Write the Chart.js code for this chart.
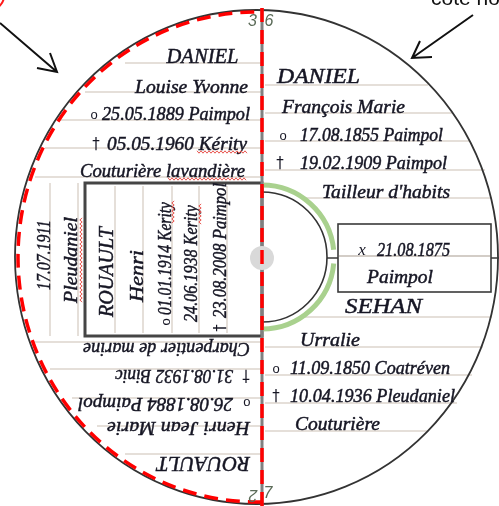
<!DOCTYPE html>
<html>
<head>
<meta charset="utf-8">
<script src="https://cdn.jsdelivr.net/npm/chart.js@4.4.1/dist/chart.umd.min.js"></script>
<style>
html, body { margin: 0; padding: 0; background: #fff; }
canvas { display: block; }
</style>
</head>
<body>
<canvas id="fan" width="499" height="506"></canvas>
<script>
// Arbre en éventail - textes de chaque personne

// côté droit (père et mère du père)
const rightLabels = ['DANIEL', 'François Marie', 'o', '17.08.1855 Paimpol', '†', '19.02.1909 Paimpol',
    "Tailleur d'habits", 'x', '21.08.1875', 'Paimpol', 'SEHAN', 'Urralie', 'o', '11.09.1850 Coatréven',
    '†', '10.04.1936 Pleudaniel', 'Couturière'];
// côté gauche, en haut
const leftLabels = ['DANIEL', 'Louise Yvonne', 'o', '25.05.1889 Paimpol', '†', '05.05.1960 Kérity',
    'Couturière lavandière'];
// colonnes verticales (sujet + mariage)
const sideLabels = ['17.07.1911', 'Pleudaniel', 'ROUAULT', 'Henri', 'o', '01.01.1914 Kerity',
    '24.06.1938 Kerity', '†', '23.08.2008 Paimpol'];
// côté gauche, en bas (à l'envers)
const lowLabels = ['Charpentier de marine', '†', '31.08.1932 Binic', 'o', '26.08.1884 Paimpol',
    'Henri Jean Marie', 'ROUAULT'];
// numéros de génération
const genLabels = ['3', '6', '2', '7'];
const noteLabel = 'côté homme';

// mise en page : [centre x, centre y, largeur] en unités des échelles
const rightPos = [[318.5, 78, 83], [343.5, 108, 123], [283, 136, 0], [371.5, 136, 143], [280, 164, 0],
    [373.5, 164, 147], [386, 193, 128], [362, 251, 0], [413.5, 251, 73], [400, 278, 66], [383.5, 308, 77],
    [330, 341, 60], [276, 369, 0], [370, 369, 160], [276, 397, 0], [372.5, 397, 165], [337.5, 425, 85]];
const leftPos = [[202.5, 58, 72], [191.5, 88, 113], [94, 115, 0], [176, 115, 148], [96, 145, 0],
    [177, 145, 140], [162.5, 172, 165]];
const sidePos = [[45, 255, 70], [72, 260, 86], [108, 272, 90], [138, 276, 52], [166, 322, 0],
    [166, 258.5, 113], [192, 263.5, 117], [221, 328, 0], [221, 250.5, 135]];
const lowPos = [[166.5, 348, 167], [246, 375, 0], [174, 375, 118], [247, 403, 0], [155.5, 403, 155],
    [178.5, 427, 143], [203.5, 462, 93]];
const genPos = [[252.5, 22, 0], [269, 22, 0], [253, 494, 180], [268, 494, 0]];

// lignes de réglure [y, x début, x fin]
const rules = [[85, 265, 428], [113, 265, 452], [141, 265, 470], [170, 265, 485], [198, 305, 492],
    [317, 305, 492], [347, 265, 483], [375, 265, 472], [403, 265, 457], [431, 265, 428],
    [63, 125, 262], [92, 85, 262], [120, 60, 262], [148, 45, 262], [177, 35, 262],
    [342, 33, 262], [369, 50, 262], [398, 72, 262], [426, 97, 262], [454, 125, 262]];
// réglure verticale [x, y début, y fin]
const vrules = [[50, 183, 336], [78, 183, 336], [115, 186, 333], [143, 186, 333], [172, 186, 333],
    [199, 186, 333], [227, 186, 333]];
// soulignés rouges du correcteur [x0, y0, x1, y1]
const squiggles = [[197, 152, 247, 152], [168, 179, 246, 179], [81, 218, 81, 303],
    [173, 201, 173, 224], [200, 204, 200, 224]];

const hub = { x: 262, y: 258 };

function fontFor(text) {
    if (text === 'o') return '13px "Liberation Sans"';
    if (text === '†') return '15px "DejaVu Sans"';
    if (text === 'x') return 'italic 17px "Liberation Serif"';
    if (/^[A-Z]+$/.test(text)) return 'italic 20px "Liberation Serif"';
    return 'italic 18px "Liberation Serif"';
}

function drawLabel(ctx, text, x, y, w, rot, font, color, heavy) {
    ctx.save();
    ctx.translate(x, y);
    ctx.rotate(rot * Math.PI / 180);
    ctx.font = font;
    ctx.fillStyle = color;
    ctx.strokeStyle = color;
    ctx.lineWidth = 0.45;
    ctx.textAlign = 'center';
    ctx.textBaseline = 'middle';
    if (w > 0) {
        const m = ctx.measureText(text).width;
        ctx.scale(w / m, 1);
    }
    ctx.fillText(text, 0, 0);
    if (heavy) ctx.strokeText(text, 0, 0);
    ctx.restore();
}

function arrow(ctx, pts) {
    ctx.beginPath();
    ctx.moveTo(pts[0][0], pts[0][1]);
    ctx.lineTo(pts[1][0], pts[1][1]);
    ctx.moveTo(pts[2][0], pts[2][1]);
    ctx.lineTo(pts[1][0], pts[1][1]);
    ctx.lineTo(pts[3][0], pts[3][1]);
    ctx.stroke();
}

const fanPlugin = {
    id: 'fan',
    beforeDatasetsDraw(chart) {
        const ctx = chart.ctx;
        const X = v => chart.scales.x.getPixelForValue(v);
        const Y = v => chart.scales.y.getPixelForValue(v);
        const kx = X(1) - X(0), ky = Y(1) - Y(0);
        const ink = '#161624';

        ctx.save();
        // réglure
        ctx.strokeStyle = '#dcd4cc';
        ctx.lineWidth = 1.5;
        rules.forEach(r => {
            ctx.beginPath();
            ctx.moveTo(X(r[1]), Y(r[0]));
            ctx.lineTo(X(r[2]), Y(r[0]));
            ctx.stroke();
        });
        vrules.forEach(r => {
            ctx.beginPath();
            ctx.moveTo(X(r[0]), Y(r[1]));
            ctx.lineTo(X(r[0]), Y(r[2]));
            ctx.stroke();
        });

        // cercle extérieur
        ctx.strokeStyle = '#333333';
        ctx.lineWidth = 1.8;
        ctx.beginPath();
        ctx.ellipse(X(256.5), Y(257), 241.5 * kx, 247 * ky, 0, 0, Math.PI * 2);
        ctx.stroke();

        // cadre du sujet (gauche)
        ctx.strokeStyle = '#454545';
        ctx.lineWidth = 3;
        ctx.strokeRect(X(85), Y(183), 177 * kx, 153 * ky);

        // cadre du mariage (droite)
        ctx.strokeStyle = '#3a3a3a';
        ctx.lineWidth = 1.6;
        ctx.strokeRect(X(338), Y(224), 153 * kx, 68 * ky);
        ctx.beginPath();
        ctx.moveTo(X(327), Y(258)); ctx.lineTo(X(338), Y(258));
        ctx.moveTo(X(491), Y(258)); ctx.lineTo(X(499), Y(258));
        ctx.stroke();
        ctx.strokeStyle = '#c4bcb4';
        ctx.lineWidth = 1.3;
        ctx.beginPath();
        ctx.moveTo(X(339), Y(256)); ctx.lineTo(X(490), Y(256));
        ctx.stroke();

        // demi-cercle central + arc vert
        ctx.strokeStyle = '#a9d18e';
        ctx.lineWidth = 5;
        ctx.beginPath();
        ctx.arc(X(262), Y(257), 72 * kx, -Math.PI / 2, -0.1);
        ctx.stroke();
        ctx.beginPath();
        ctx.arc(X(262), Y(257), 72 * kx, 0.09, Math.PI / 2);
        ctx.stroke();
        ctx.strokeStyle = '#333333';
        ctx.lineWidth = 1.6;
        ctx.beginPath();
        ctx.arc(X(262), Y(257), 65 * kx, -Math.PI / 2, Math.PI / 2);
        ctx.stroke();

        // textes
        const groups = [[rightLabels, rightPos, 0], [leftLabels, leftPos, 0], [sideLabels, sidePos, -90], [lowLabels, lowPos, 180]];
        groups.forEach(([labels, pos, rot]) => {
            labels.forEach((t, i) => {
                const p = pos[i];
                drawLabel(ctx, t, X(p[0]), Y(p[1]), p[2] * kx, rot, fontFor(t), ink, p[2] > 0);
            });
        });

        // soulignés ondulés
        ctx.strokeStyle = '#e8554f';
        ctx.lineWidth = 1;
        squiggles.forEach(s => {
            const x0 = X(s[0]), y0 = Y(s[1]), x1 = X(s[2]), y1 = Y(s[3]);
            const len = Math.hypot(x1 - x0, y1 - y0);
            const ux = (x1 - x0) / len, uy = (y1 - y0) / len;
            ctx.beginPath();
            for (let d = 0, k = 0; d <= len; d += 2, k++) {
                const off = (k % 2 ? 1.2 : -1.2);
                const px = x0 + ux * d - uy * off, py = y0 + uy * d + ux * off;
                if (d === 0) ctx.moveTo(px, py); else ctx.lineTo(px, py);
            }
            ctx.stroke();
        });

        // flèches et annotations
        ctx.strokeStyle = '#111111';
        ctx.lineWidth = 2;
        arrow(ctx, [[X(0), Y(23)], [X(57), Y(72)], [X(37), Y(68)], [X(50), Y(53)]]);
        arrow(ctx, [[X(473), Y(15)], [X(412), Y(58)], [X(432), Y(57)], [X(420), Y(41)]]);
        ctx.strokeStyle = '#ff1a1a';
        ctx.beginPath();
        ctx.arc(X(-9), Y(-4), 13 * kx, 0, Math.PI * 2);
        ctx.stroke();
        ctx.font = '21px "Liberation Sans"';
        ctx.fillStyle = '#111111';
        ctx.textAlign = 'left';
        ctx.textBaseline = 'alphabetic';
        ctx.fillText(noteLabel, X(431), Y(5));

        // axe vertical gris
        ctx.strokeStyle = '#808080';
        ctx.lineWidth = 3;
        ctx.beginPath();
        ctx.moveTo(X(262), Y(8)); ctx.lineTo(X(262), Y(506));
        ctx.stroke();
        ctx.restore();
    },
    afterDatasetsDraw(chart) {
        const ctx = chart.ctx;
        const X = v => chart.scales.x.getPixelForValue(v);
        const Y = v => chart.scales.y.getPixelForValue(v);
        const kx = X(1) - X(0), ky = Y(1) - Y(0);

        ctx.save();
        // pointillés rouges : axe + demi-cercle gauche
        ctx.strokeStyle = '#ff0000';
        ctx.lineWidth = 3.5;
        ctx.setLineDash([14, 8]);
        ctx.beginPath();
        ctx.moveTo(X(262), Y(8)); ctx.lineTo(X(262), Y(506));
        ctx.stroke();
        ctx.beginPath();
        ctx.ellipse(X(257), Y(257), 239 * kx, 245 * ky, 0, Math.PI / 2 - 0.02, Math.PI * 1.5 + 0.02);
        ctx.stroke();
        ctx.setLineDash([]);

        // numéros
        genLabels.forEach((t, i) => {
            const p = genPos[i];
            drawLabel(ctx, t, X(p[0]), Y(p[1]), 0, p[2], 'italic 16px "Liberation Sans"', '#5b6b58', false);
        });
        ctx.restore();
    }
};

new Chart(document.getElementById('fan'), {
    type: 'scatter',
    data: {
        datasets: [{
            data: [hub],
            pointRadius: 12,
            pointHoverRadius: 12,
            backgroundColor: '#d9d9d9',
            borderWidth: 0
        }]
    },
    options: {
        responsive: false,
        animation: false,
        events: [],
        layout: { padding: 0, autoPadding: false },
        scales: {
            x: { type: 'linear', min: 0, max: 499, display: false },
            y: { type: 'linear', min: 0, max: 506, reverse: true, display: false }
        },
        plugins: {
            legend: { display: false },
            tooltip: { enabled: false }
        }
    },
    plugins: [fanPlugin]
});
</script>
</body>
</html>
